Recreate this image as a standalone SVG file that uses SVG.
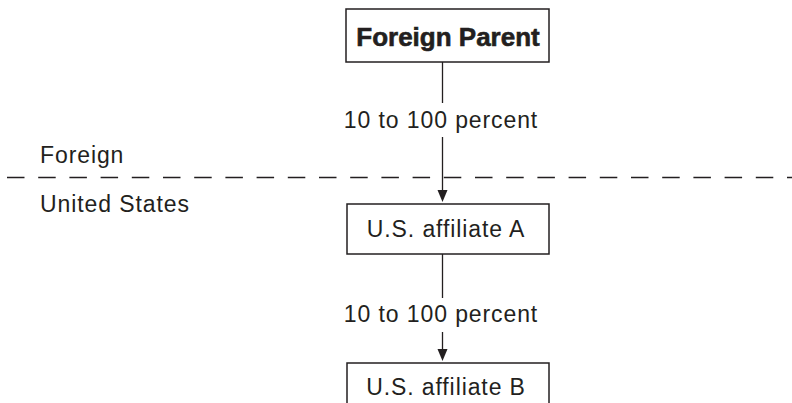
<svg xmlns="http://www.w3.org/2000/svg" width="792" height="403" viewBox="0 0 792 403">
<style>
  .box { fill: #fff; stroke: #231f20; stroke-width: 1.5; }
  .lbl { font-family: "Liberation Sans", Arial, sans-serif; font-size: 23px; letter-spacing: 0.9px; fill: #231f20; }
  .bold { font-family: "Liberation Sans", Arial, sans-serif; font-size: 26px; font-weight: bold; fill: #231f20; stroke: #231f20; stroke-width: 0.6px; }
  .conn { stroke: #231f20; stroke-width: 1.3; fill: none; }
</style>
<rect width="792" height="403" fill="#fff"/>
<g id="divider">
  <line x1="7" y1="177.5" x2="792" y2="177.5" stroke="#231f20" stroke-width="1.3" stroke-dasharray="17.5 13.7"/>
  <text class="lbl" x="40" y="163">Foreign</text>
  <text class="lbl" x="40" y="212">United States</text>
</g>
<g id="connectors">
  <line class="conn" x1="442.5" y1="62" x2="442.5" y2="103"/>
  <line class="conn" x1="442.5" y1="137" x2="442.5" y2="190"/>
  <path d="M437.5,190 L447.5,190 L442.5,202 Z" fill="#231f20"/>
  <text class="lbl" x="441" y="128" text-anchor="middle">10 to 100 percent</text>
  <line class="conn" x1="442.5" y1="254" x2="442.5" y2="298"/>
  <line class="conn" x1="442.5" y1="332" x2="442.5" y2="349"/>
  <path d="M437.5,349 L447.5,349 L442.5,361 Z" fill="#231f20"/>
  <text class="lbl" x="441" y="322" text-anchor="middle">10 to 100 percent</text>
</g>
<g id="foreign-parent">
  <rect class="box" x="346" y="9" width="203" height="53"/>
  <text class="bold" x="448" y="46" text-anchor="middle">Foreign Parent</text>
</g>
<g id="affiliate-a">
  <rect class="box" x="347" y="204" width="202" height="50"/>
  <text class="lbl" x="446" y="237" text-anchor="middle">U.S. affiliate A</text>
</g>
<g id="affiliate-b">
  <rect class="box" x="347" y="363" width="202" height="50"/>
  <text class="lbl" x="446" y="395" text-anchor="middle">U.S. affiliate B</text>
</g>
</svg>
